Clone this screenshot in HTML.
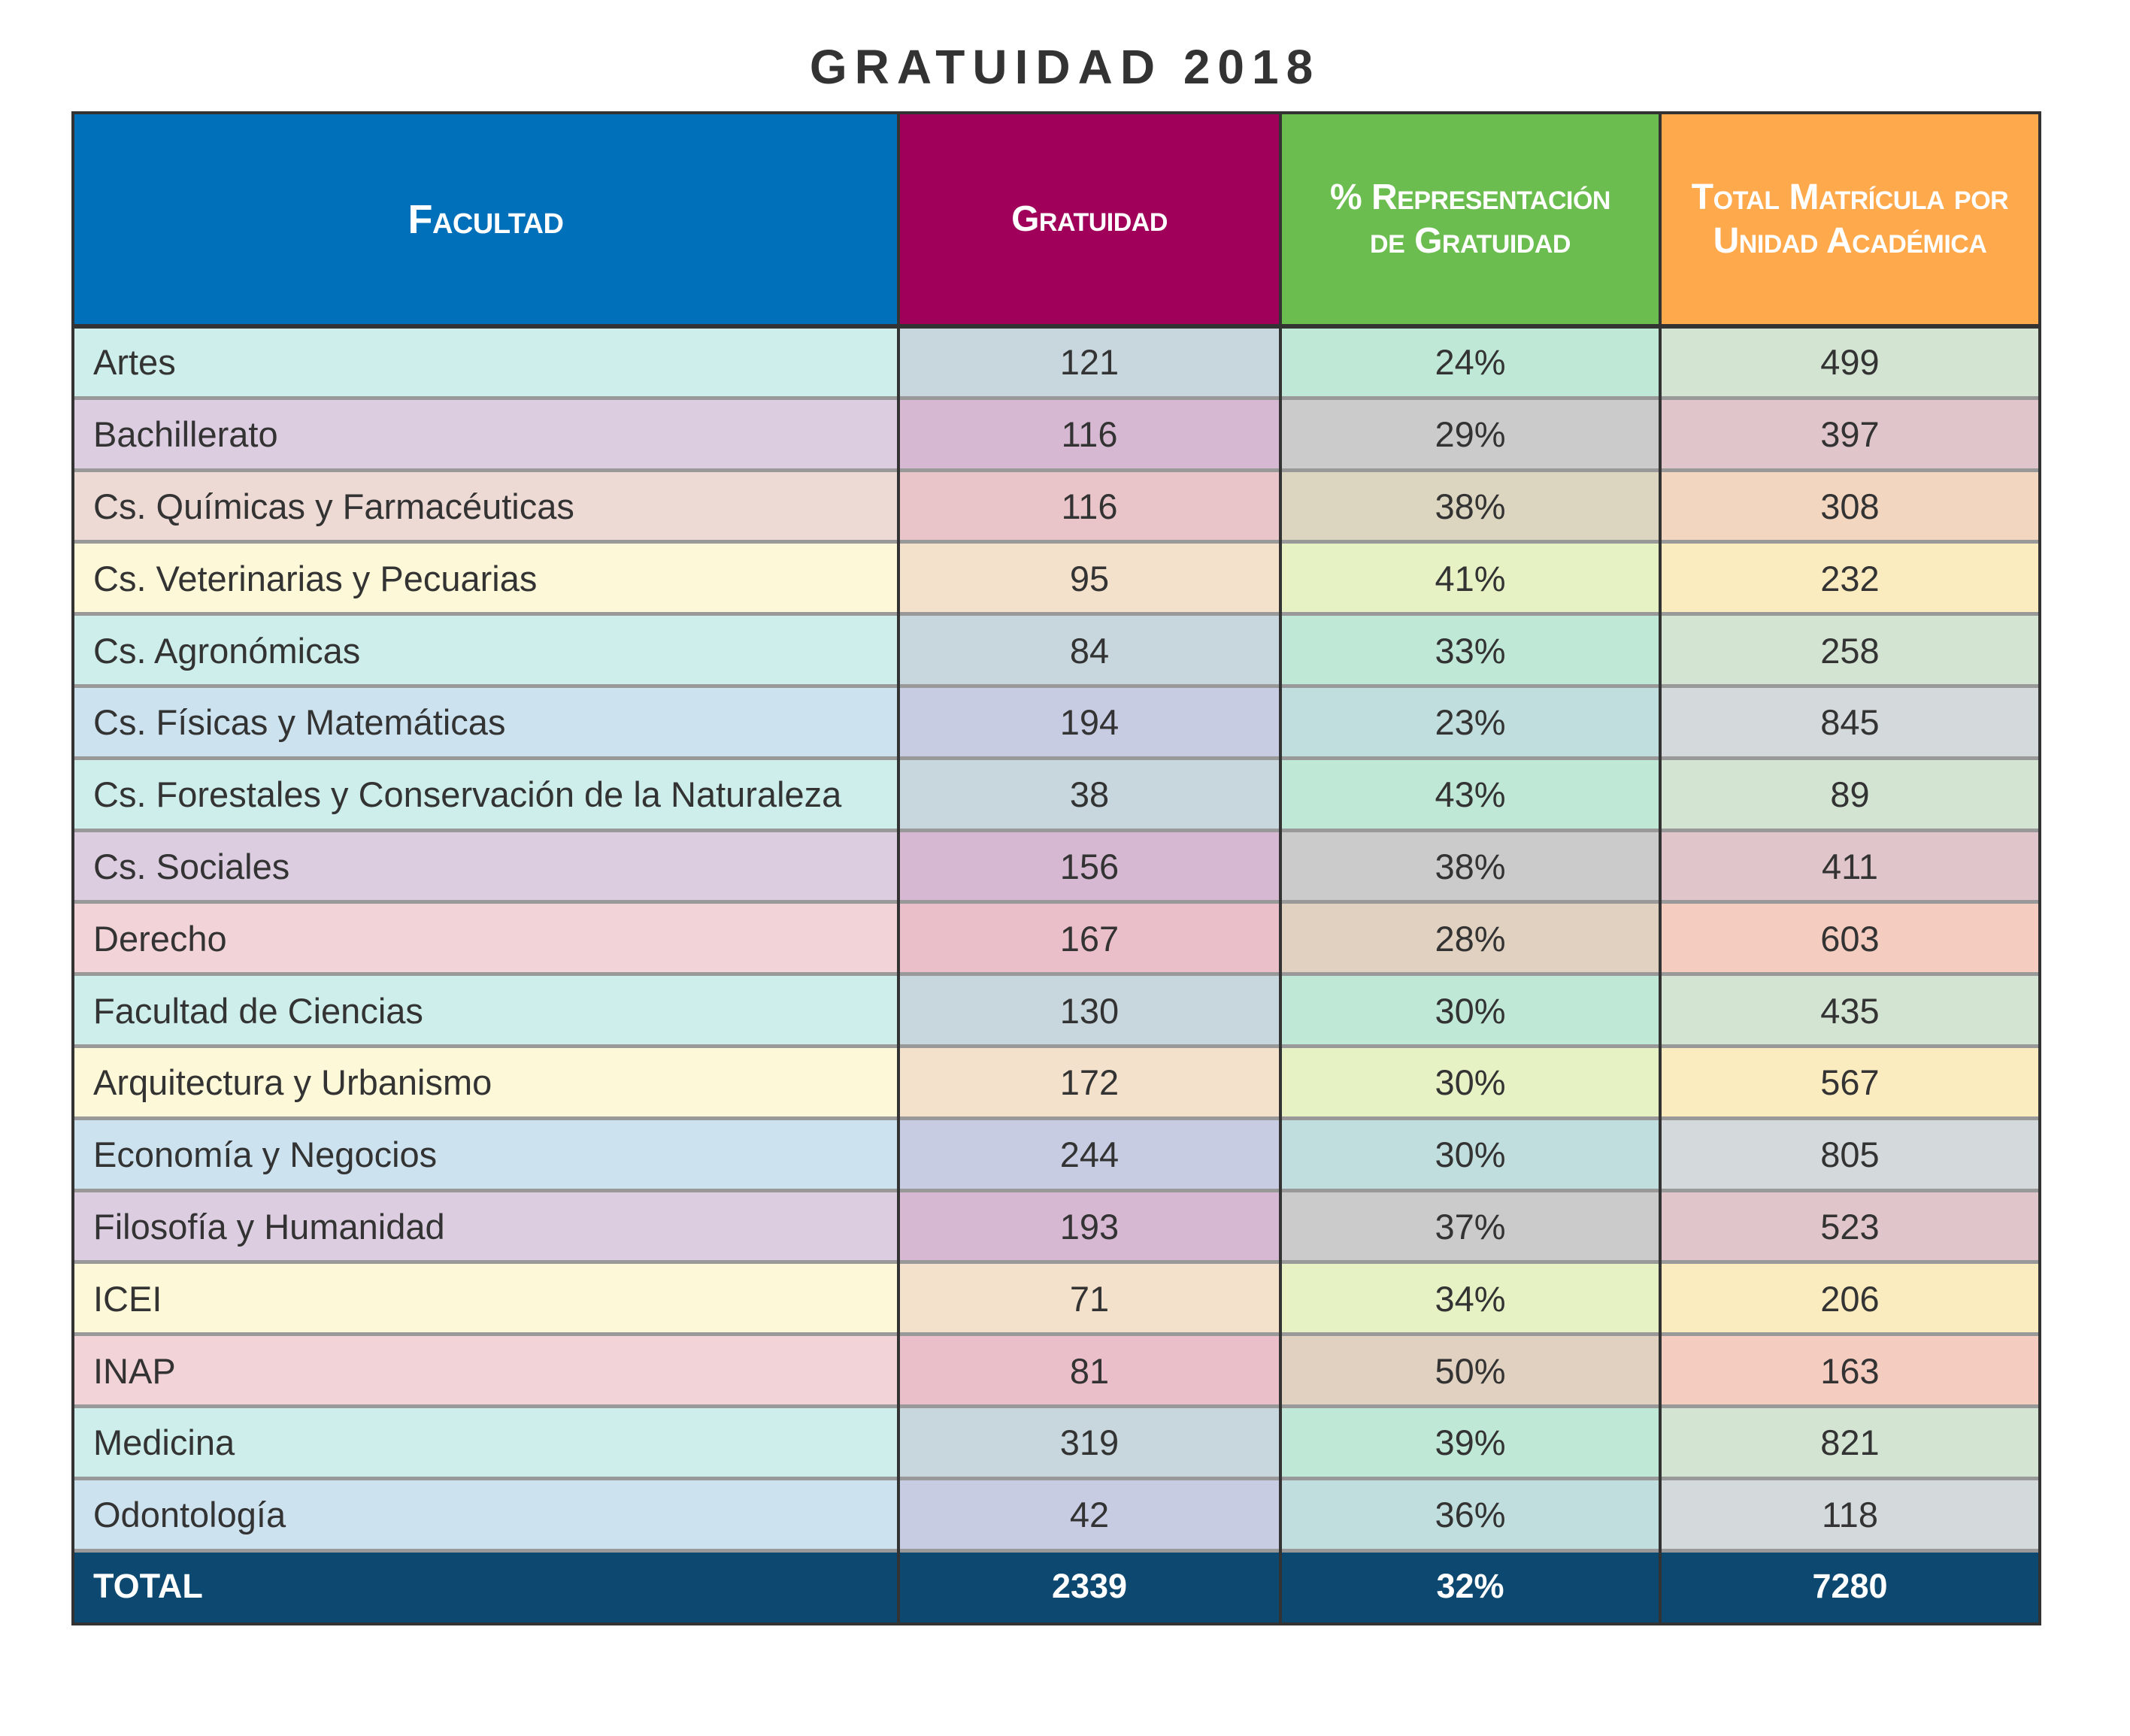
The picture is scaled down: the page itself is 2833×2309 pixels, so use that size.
<!DOCTYPE html>
<html><head><meta charset="utf-8"><style>
body{margin:0;width:2833px;height:2309px;background:#fff;position:relative;overflow:hidden;font-family:"Liberation Sans",sans-serif;}
.t{position:absolute;left:0;width:2833px;top:52px;text-align:center;font-weight:bold;font-size:64px;letter-spacing:10px;color:#333;}
.c{position:absolute;box-sizing:border-box;display:flex;align-items:center;justify-content:center;color:#333;font-size:47px;}
.l{justify-content:flex-start;padding-left:27px;}
.h{color:#fff;font-weight:bold;font-variant:small-caps;text-align:center;line-height:58px;font-size:48px;letter-spacing:-0.5px;}
.tot{background:#0d4870;color:#fff;font-weight:bold;font-size:45px;}
.hl{position:absolute;height:5px;background:#999;}
.vl{position:absolute;width:4px;background:#333;}
</style></head><body>
<div class="t">GRATUIDAD 2018</div>
<div id="g"></div>
<script>
var X=[97,1195,1703,2208,2713];
var hdr=[["Facultad","#0070bb"],["Gratuidad","#a0005a"],["% Representación<br>de Gratuidad","#6bbd4f"],["Total Matrícula por<br>Unidad Académica","#ffa94d"]];
var P={T:["#cdeeea","#c8d7dd","#bfe8d6","#d3e4d3"],P:["#dccde0","#d6b8d3","#cbcbcb","#e0c6cb"],B:["#eedad5","#e9c5c9","#dcd6c0","#f3d6c0"],Y:["#fdf8d8","#f3e1cb","#e7f2c4","#fbecc0"],K:["#f2d4d8","#ebbfca","#e0d1c0","#f5ccc0"],L:["#cce2ef","#c8cce3","#c0dedd","#d4dadb"]};
var R=[["Artes",121,"24%",499,"T"],["Bachillerato",116,"29%",397,"P"],["Cs. Químicas y Farmacéuticas",116,"38%",308,"B"],["Cs. Veterinarias y Pecuarias",95,"41%",232,"Y"],["Cs. Agronómicas",84,"33%",258,"T"],["Cs. Físicas y Matemáticas",194,"23%",845,"L"],["Cs. Forestales y Conservación de la Naturaleza",38,"43%",89,"T"],["Cs. Sociales",156,"38%",411,"P"],["Derecho",167,"28%",603,"K"],["Facultad de Ciencias",130,"30%",435,"T"],["Arquitectura y Urbanismo",172,"30%",567,"Y"],["Economía y Negocios",244,"30%",805,"L"],["Filosofía y Humanidad",193,"37%",523,"P"],["ICEI",71,"34%",206,"Y"],["INAP",81,"50%",163,"K"],["Medicina",319,"39%",821,"T"],["Odontología",42,"36%",118,"L"]];
var h="";
for(var j=0;j<4;j++)h+='<div class="c h" style="left:'+X[j]+'px;top:150px;width:'+(X[j+1]-X[j])+'px;height:284px;background:'+hdr[j][1]+';'+(j==0?'font-size:54px;':'')+'">'+hdr[j][0]+'</div>';
var rh=95.8;
for(var i=0;i<18;i++){var y=434+i*rh;var r=i<17?R[i]:["TOTAL",2339,"32%",7280,null];
for(var j=0;j<4;j++){var bg=r[4]?P[r[4]][j]:"";h+='<div class="c'+(j==0?' l':'')+(r[4]?'':' tot')+'" style="left:'+X[j]+'px;top:'+y+'px;width:'+(X[j+1]-X[j])+'px;height:'+rh+'px;'+(bg?'background:'+bg:'')+'">'+r[j]+'</div>';}
if(i>0)h+='<div class="hl" style="left:97px;width:2616px;top:'+(y-3)+'px"></div>';}
h+='<div style="position:absolute;left:95px;top:148px;width:2620px;height:2014px;box-sizing:border-box;border:4px solid #333"></div>';
h+='<div style="position:absolute;left:95px;top:431px;width:2620px;height:6px;background:#333"></div>';
for(var j=1;j<4;j++)h+='<div class="vl" style="left:'+(X[j]-2)+'px;top:150px;height:2010px"></div>';
document.getElementById("g").innerHTML=h;
</script>
</body></html>
